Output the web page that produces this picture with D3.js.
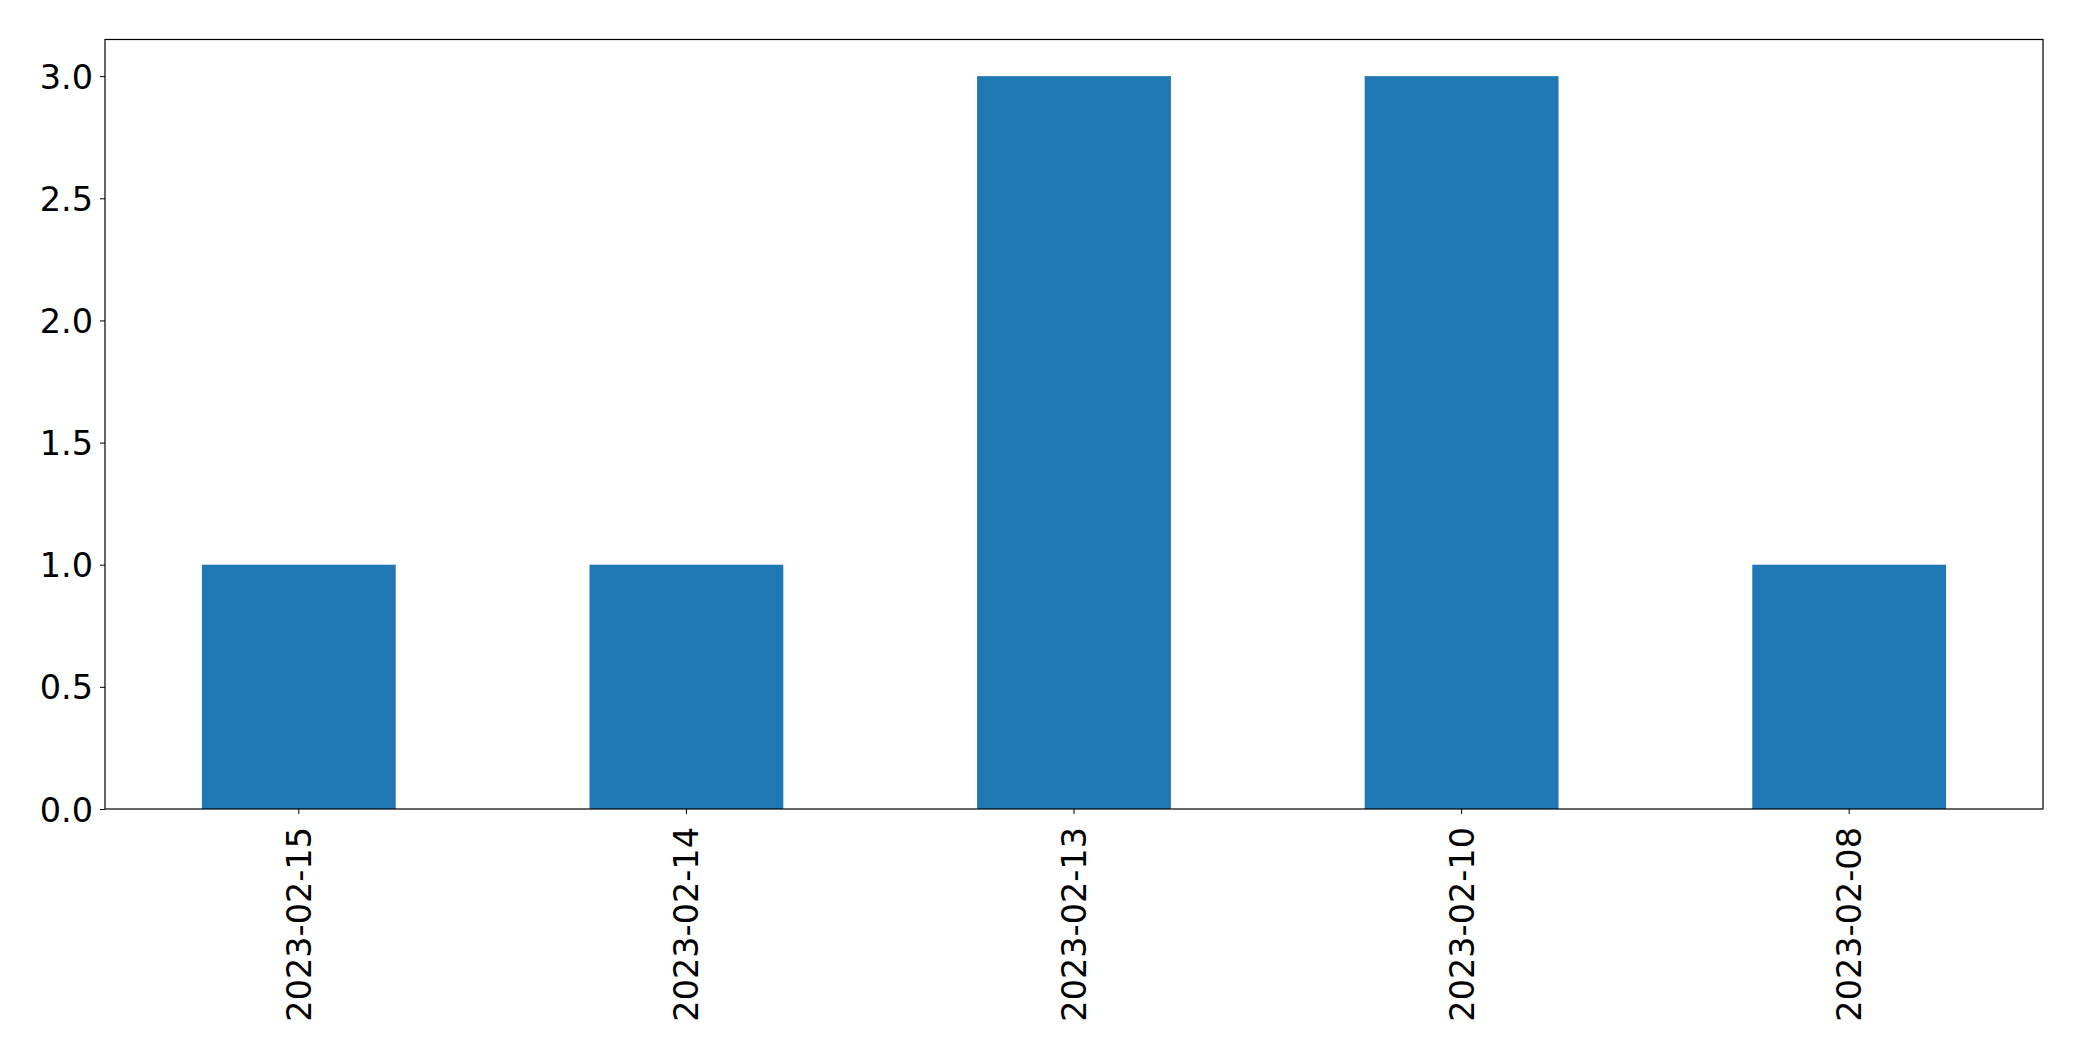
<!DOCTYPE html>
<html>
<head>
<meta charset="utf-8">
<script src="https://cdn.jsdelivr.net/npm/d3@7"></script>
<style>
  html, body { margin: 0; padding: 0; background: #fff; }
  svg { display: block; }
  text { font-family: "DejaVu Sans", sans-serif; fill: #000; }
</style>
</head>
<body>
<script>
const categories = ["2023-02-15", "2023-02-14", "2023-02-13", "2023-02-10", "2023-02-08"];
const values = [1, 1, 3, 3, 1];
const yTicks = [0, 0.5, 1.0, 1.5, 2.0, 2.5, 3.0];

const W = 2082, H = 1061;
const mLeft = 105, mRight = 2043, mTop = 39.5, mBottom = 809;
const fontSize = 33.5;

const svg = d3.select("body").append("svg").attr("width", W).attr("height", H);

const x = d3.scaleBand().domain(categories).range([mLeft, mRight]).paddingInner(0.5).paddingOuter(0.25);
const y = d3.scaleLinear().domain([0, 3.15]).range([mBottom, mTop]);

// bars
svg.append("g").selectAll("rect").data(categories).join("rect")
  .attr("x", d => x(d))
  .attr("width", x.bandwidth())
  .attr("y", (d, i) => y(values[i]))
  .attr("height", (d, i) => y(0) - y(values[i]))
  .attr("fill", "#1f77b4");

// y axis
const yAxis = d3.axisLeft(y).tickValues(yTicks).tickFormat(d3.format(".1f")).tickSizeInner(5).tickSizeOuter(0).tickPadding(7);
const gy = svg.append("g").attr("transform", `translate(${mLeft},0)`).call(yAxis);
gy.select(".domain").remove();
gy.selectAll("line").attr("stroke", "#000").attr("stroke-width", 1);
gy.selectAll("text").attr("font-size", fontSize).attr("font-family", "DejaVu Sans").attr("dy", "0.36em");

// x axis
const xAxis = d3.axisBottom(x).tickSizeInner(5).tickSizeOuter(0).tickPadding(0);
const gx = svg.append("g").attr("transform", `translate(0,${mBottom})`).call(xAxis);
gx.select(".domain").remove();
gx.selectAll("line").attr("stroke", "#000").attr("stroke-width", 1);
gx.selectAll("text")
  .attr("font-size", fontSize).attr("font-family", "DejaVu Sans")
  .attr("text-anchor", "end")
  .attr("x", 0).attr("y", 0).attr("dy", "0.36em")
  .attr("transform", "translate(0,18) rotate(-90)");

// frame
svg.append("rect")
  .attr("x", mLeft).attr("y", mTop)
  .attr("width", mRight - mLeft).attr("height", mBottom - mTop)
  .attr("fill", "none").attr("stroke", "#000").attr("stroke-width", 1.2);
</script>
</body>
</html>
